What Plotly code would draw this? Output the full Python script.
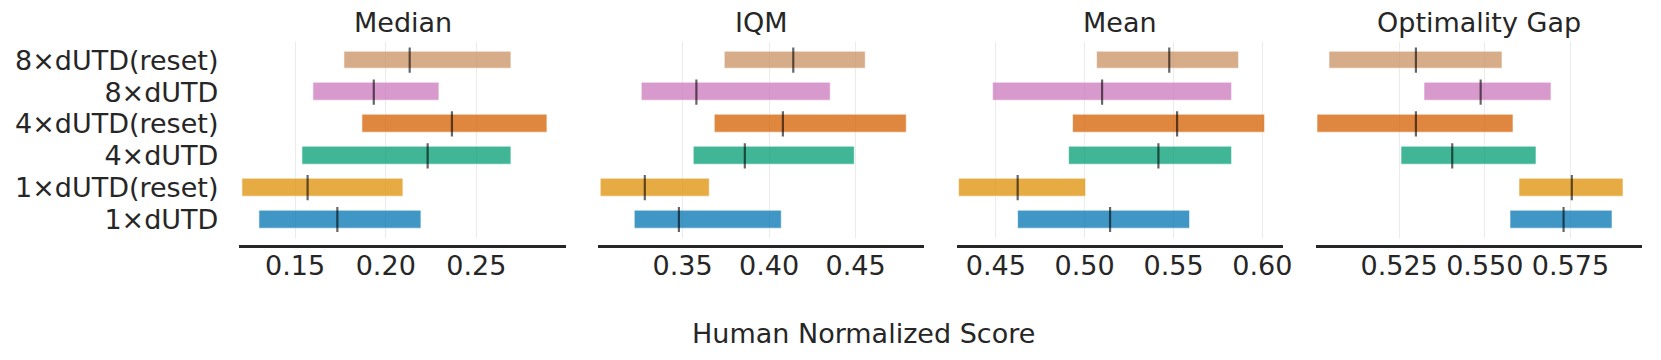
import plotly.graph_objects as go

# page body keeps its default 8px margin, so the figure is drawn 8px in from the window edge
W, H = 1645, 344
OFF = 8

algorithms = ["1×dUTD", "1×dUTD(reset)", "4×dUTD", "4×dUTD(reset)", "8×dUTD", "8×dUTD(reset)"]
colors = ["#0173b2", "#de8f05", "#029e73", "#d55e00", "#cc78bc", "#ca9161"]
metrics = ["Median", "IQM", "Mean", "Optimality Gap"]

# lower CI, upper CI, point estimate per metric (same order as algorithms)
median_lo = [0.1306, 0.1207, 0.1539, 0.1871, 0.1603, 0.1770]
median_hi = [0.2195, 0.2095, 0.2693, 0.2893, 0.2294, 0.2693]
median_pt = [0.1733, 0.1569, 0.2231, 0.2365, 0.1934, 0.2132]

iqm_lo = [0.3224, 0.3025, 0.3563, 0.3684, 0.3264, 0.3745]
iqm_hi = [0.4075, 0.3655, 0.4494, 0.4797, 0.4356, 0.4556]
iqm_pt = [0.3479, 0.3282, 0.3860, 0.4080, 0.3580, 0.4140]

mean_lo = [0.4627, 0.4293, 0.4914, 0.4936, 0.4483, 0.5070]
mean_hi = [0.5595, 0.5007, 0.5828, 0.6017, 0.5828, 0.5871]
mean_pt = [0.5143, 0.4623, 0.5415, 0.5520, 0.5098, 0.5476]

gap_lo = [0.5576, 0.5601, 0.5258, 0.5013, 0.5324, 0.5047]
gap_hi = [0.5872, 0.5906, 0.5651, 0.5585, 0.5696, 0.5552]
gap_pt = [0.5730, 0.5754, 0.5405, 0.5299, 0.5488, 0.5299]

data = [
    (median_lo, median_hi, median_pt),
    (iqm_lo, iqm_hi, iqm_pt),
    (mean_lo, mean_hi, mean_pt),
    (gap_lo, gap_hi, gap_pt),
]

x_ranges = [[0.1193, 0.2992], [0.301, 0.4897], [0.4282, 0.6116], [0.5006, 0.5958]]
x_ticks = [[0.15, 0.20, 0.25], [0.35, 0.40, 0.45], [0.45, 0.50, 0.55, 0.60], [0.525, 0.550, 0.575]]
tick_fmt = [".2f", ".2f", ".2f", ".3f"]

# pixel extents of each panel (window coordinates)
px_left = [240.7, 601, 962.3, 1322.7]
px_right = [568.7, 929.3, 1290, 1650.7]
plot_top, plot_bottom, spine_y = 41.7, 238, 246


def fx(px):
    return (px - OFF) / W


def fy(py):
    return 1 - (py - OFF) / H


FONT = "DejaVu Sans"
TXT = "#262626"
FS = 27

fig = go.Figure()
layout = {}
annotations = []

for i, (lo, hi, pt) in enumerate(data):
    n = "" if i == 0 else str(i + 1)
    xa, ya = "x" + n, "y" + n
    widths = [h - l for l, h in zip(lo, hi)]
    fig.add_trace(go.Bar(
        y=algorithms, x=widths, base=lo, orientation="h", width=0.56,
        marker=dict(color=colors, opacity=0.75, line=dict(color="rgba(255,255,255,0.6)", width=1)),
        xaxis=xa, yaxis=ya, showlegend=False,
    ))
    fig.add_trace(go.Scatter(
        y=algorithms, x=pt, mode="markers",
        marker=dict(symbol="line-ns", size=18, line=dict(color="rgba(0,0,0,0.6)", width=2.2)),
        xaxis=xa, yaxis=ya, showlegend=False,
    ))
    d0, d1 = fx(px_left[i]), fx(px_right[i])
    layout["xaxis" + n] = dict(
        domain=[d0, d1], range=x_ranges[i], tickvals=x_ticks[i], tickformat=tick_fmt[i],
        anchor="free", position=fy(spine_y),
        showgrid=True, gridcolor="#ebebeb", gridwidth=1, zeroline=False,
        showline=True, linecolor=TXT, linewidth=2.6, ticks="", ticklabelstandoff=-5,
        tickfont=dict(family=FONT, size=FS, color=TXT),
    )
    layout["yaxis" + n] = dict(
        domain=[fy(plot_bottom), fy(plot_top)], anchor=xa,
        type="category", categoryorder="array", categoryarray=algorithms,
        tickmode="array", tickvals=algorithms, ticktext=algorithms,
        range=[-0.58, 5.58], showgrid=False, zeroline=False, showline=False,
        showticklabels=(i == 0), ticks="", ticklabelstandoff=20,
        tickfont=dict(family=FONT, size=FS, color=TXT),
    )
    annotations.append(dict(
        text=metrics[i], x=(d0 + d1) / 2, y=fy(23), xref="paper", yref="paper",
        xanchor="center", yanchor="middle", showarrow=False,
        font=dict(family=FONT, size=FS, color=TXT),
    ))

annotations.append(dict(
    text="Human Normalized Score", x=fx(868), y=fy(333), xref="paper", yref="paper",
    xanchor="center", yanchor="middle", showarrow=False,
    font=dict(family=FONT, size=FS, color=TXT),
))

fig.update_layout(
    width=W, height=H, margin=dict(l=0, r=0, t=0, b=0),
    plot_bgcolor="white", paper_bgcolor="white",
    bargap=0, annotations=annotations, **layout,
)

fig.write_html("out.html")
